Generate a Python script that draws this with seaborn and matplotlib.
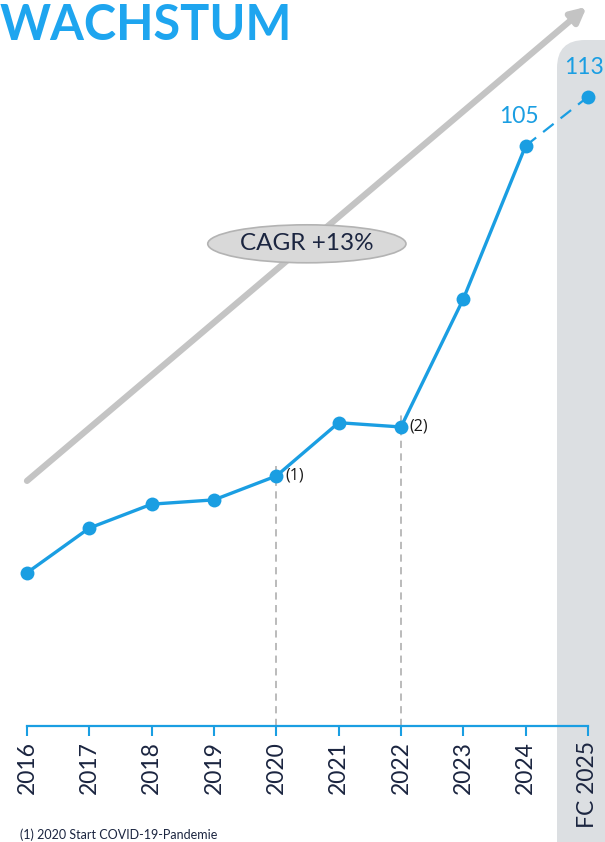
import numpy as np
import pandas as pd
import matplotlib.pyplot as plt
import seaborn as sns
from matplotlib.patches import Ellipse, FancyBboxPatch

# data
years = [2016, 2017, 2018, 2019, 2020, 2021, 2022, 2023, 2024]
values = [35.3, 42.6, 46.5, 47.2, 51.1, 59.8, 59.1, 80.0, 105.0]
fc_year = 2025
fc_value = 113.0
tick_labels = ["2016", "2017", "2018", "2019", "2020", "2021", "2022", "2023", "2024", "FC 2025"]
notes = {2020: "(1)", 2022: "(2)"}

BLUE = "#1a9ee2"
NAVY = "#1b2540"
GREY = "#c4c4c4"

sns.set_style("white")
plt.rcParams["font.family"] = ["Lato", "DejaVu Sans"]

fig = plt.figure(figsize=(6.05, 8.42), dpi=100)
ax = fig.add_axes([0, 0, 1, 1])
ax.set_facecolor("none")
ax.set_zorder(2)

# grey forecast band with rounded top (in inches)
band = FancyBboxPatch((5.57, -0.5), 0.8, 8.52,
                      boxstyle="round,pad=0,rounding_size=0.28",
                      transform=fig.dpi_scale_trans, facecolor="#dcdfe2",
                      edgecolor="none", zorder=-1)
fig.patches.append(band)

df = pd.DataFrame({"year": years, "value": values})
sns.lineplot(data=df, x="year", y="value", ax=ax, color=BLUE, linewidth=2.4,
             marker="o", markersize=10, markeredgewidth=0, zorder=4)
ax.plot([years[-1], fc_year], [values[-1], fc_value], color=BLUE, lw=1.6,
        ls=(0, (6, 4)), zorder=3)
ax.plot([fc_year], [fc_value], "o", color=BLUE, ms=10, mew=0, zorder=4)

ax.set_xlim(2015.567, 2025.273)
ax.set_ylim(-8.65, 128.8)

axis_val = 10.29

# dashed reference lines for footnotes
for yr, lab in notes.items():
    v = values[years.index(yr)]
    ax.plot([yr, yr], [axis_val, v + 2.5], color="#b5b5b5", lw=1.3,
            ls=(0, (4, 3)), zorder=2)
    ax.text(yr + 0.14, v, lab, fontsize=11.5, color="#1a1a1a",
            va="center", ha="left", family=["Open Sans", "DejaVu Sans"])

# growth arrow
ax.annotate("", xy=(2024.98, 127.7), xytext=(2016.0, 50.3),
            arrowprops=dict(arrowstyle="-|>,head_length=0.9,head_width=0.45",
                            color=GREY, lw=4.5, shrinkA=0, shrinkB=0),
            zorder=1)

# CAGR bubble
ax.add_patch(Ellipse((2020.49, 89.0), 3.18, 6.2, facecolor="#d9d9d9",
                     edgecolor="#b3b3b3", lw=1.2, zorder=5))
ax.text(2020.49, 89.0, "CAGR +13%", fontsize=17.5, color=NAVY,
        ha="center", va="center", zorder=6)

# value labels
ax.text(years[-1] - 0.1, values[-1] + 4.8, "105", fontsize=16.5, color=BLUE,
        ha="center", va="center")
ax.text(2025.26, fc_value + 4.8, "113", fontsize=16.5, color=BLUE,
        ha="right", va="center")

# axis
for s in ["top", "right", "left"]:
    ax.spines[s].set_visible(False)
ax.spines["bottom"].set_position(("data", axis_val))
ax.spines["bottom"].set_bounds(2016, 2025)
ax.spines["bottom"].set_color(BLUE)
ax.spines["bottom"].set_linewidth(1.6)
ax.set_xticks(years + [fc_year])
ax.set_xticklabels(tick_labels, rotation=90, fontsize=16.5, color=NAVY, va="top")
ax.tick_params(axis="x", direction="out", length=7, width=1.5, color=BLUE, pad=4,
               bottom=True)
ax.set_yticks([])
ax.set_xlabel("")
ax.set_ylabel("")

# title and footnote
fig.text(0.0, 1 - 3 / 842, "WACHSTUM", fontsize=35, fontweight="bold",
         color="#1ea5ef", ha="left", va="top")
fig.text(20 / 605, 1 - 841 / 842, "(1) 2020 Start COVID-19-Pandemie", fontsize=9,
         color=NAVY, ha="left", va="bottom")

fig.savefig("out.png", dpi=100)
